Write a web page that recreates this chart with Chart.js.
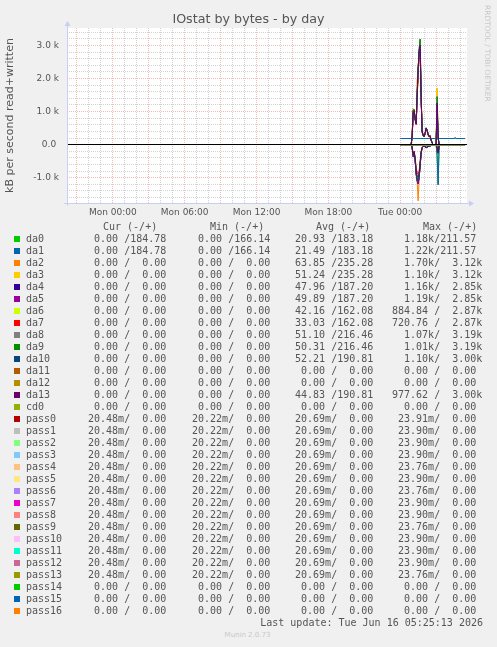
<!DOCTYPE html>
<html><head><meta charset="utf-8">
<script src="https://cdn.jsdelivr.net/npm/chart.js@4.4.1/dist/chart.umd.min.js"></script>
<style>
html,body{margin:0;padding:0;background:#f0f0f0;width:497px;height:647px;overflow:hidden;}
#wrap{position:relative;width:497px;height:647px;}
#c{position:absolute;left:0;top:0;}
.t{position:absolute;font-family:"DejaVu Sans Mono",monospace;font-size:10px;line-height:12px;height:12px;color:#555;white-space:pre;}
.sw{position:absolute;width:6px;height:6px;}
#rrd{position:absolute;font-family:"DejaVu Sans",sans-serif;font-size:7.5px;line-height:9px;color:#c8c8c8;transform-origin:left top;transform:rotate(90deg);left:492px;top:5px;white-space:nowrap;}
#ver{position:absolute;font-family:"DejaVu Sans",sans-serif;font-size:7px;line-height:9px;color:#c8c8c8;left:0;width:495px;text-align:center;top:631px;}
</style></head>
<body><div id="wrap"><canvas id="c" width="497" height="230"></canvas>
<div id="rrd">RRDTOOL / TOBI OETIKER</div>
<div id="legend"></div>
<div id="ver">Munin 2.0.73</div>
</div>
<script>
// ---------- data ----------
const seriesNames = ["da0","da1","da2","da3","da4","da5","da6","da7","da8","da9","da10","da11","da12","da13","cd0",
  "pass0","pass1","pass2","pass3","pass4","pass5","pass6","pass7","pass8","pass9","pass10","pass11","pass12","pass13","pass14","pass15","pass16"];
const seriesColors = ["#00CC00","#0066B3","#FF8000","#FFCC00","#330099","#990099","#CCFF00","#FF0000","#808080","#008F00","#00487D","#B35A00","#B38F00","#6B006B","#8FB300",
  "#B30000","#BEBEBE","#80FF80","#80C9FF","#FFC080","#FFE680","#AA80FF","#EE00CC","#FF8080","#666600","#FFBFFF","#00FFCC","#CC6699","#999900","#00CC00","#0066B3","#FF8000"];

// sample times, minutes after Tue 00:00
const tSpike = [0,55,60,65,70,75,80,85,90,95,100,105,110,115,120,125,130,135,140,145,150,155,160,165,170,175,180,185,190,195,200,270,275,280,325];
const tFlat = [0,325];

// written (positive) kB/s
const wDa01 = [185,185,185,185,185,185,185,185,185,185,185,185,185,185,185,185,185,185,185,185,185,185,185,185,185,185,185,185,166,185,185,185,211,185,185];
const wDa23 = [0,0,300,1090,1050,800,650,1900,2400,2600,3120,1500,420,300,260,360,500,450,320,260,280,150,60,0,0,0,0,1700,250,0,0,0,0,0,0];
const wDa45 = [0,0,250,950,1000,760,620,1450,2200,2750,2850,1400,380,280,240,330,480,430,300,240,260,140,50,0,0,0,0,1100,220,0,0,0,0,0,0];
const wDa67 = [0,0,230,900,960,740,600,1400,2150,2700,2870,1350,370,260,230,320,460,400,280,230,250,130,50,0,0,0,0,1000,200,0,0,0,0,0,0];
const wDa89 = [0,0,280,1050,1060,780,640,1550,2250,2900,3190,1450,400,290,250,350,510,440,310,250,270,140,55,0,0,0,0,1450,240,0,0,0,0,0,0];
const wDa1013 = [0,0,260,1000,1030,770,630,1500,2300,2850,3000,1420,390,285,245,340,500,435,305,245,265,140,55,0,0,0,0,1250,230,0,0,0,0,0,0];

// read (drawn negative) kB/s
const rDa0 = [0,0,0,0,0,0,0,0,0,0,0,0,0,0,0,0,0,0,0,0,0,0,0,0,0,0,0,300,1180,60,0,0,0,0,0];
const rDa1 = [0,0,0,0,0,0,0,0,0,0,0,0,0,0,0,0,0,0,0,0,0,0,0,0,0,0,0,320,1220,60,0,0,0,0,0];
const rDa2 = [0,0,100,350,250,500,900,1100,1700,1000,600,250,100,60,50,70,90,80,60,50,40,30,10,0,0,0,0,100,260,50,0,0,0,0,0];
const rDa3 = [0,0,100,300,230,450,850,1000,1100,950,600,250,100,60,50,70,90,80,60,50,40,30,10,0,0,0,0,100,250,50,0,0,0,0,0];
const rDa45 = [0,0,100,370,250,480,900,1100,1190,1000,650,250,100,60,50,70,90,80,60,50,40,30,10,0,0,0,0,100,260,50,0,0,0,0,0];
const rDa67 = [0,0,80,300,200,400,700,850,885,800,500,200,80,50,40,60,80,70,50,40,30,20,10,0,0,0,0,80,200,40,0,0,0,0,0];
const rDa89 = [0,0,90,330,230,460,850,1000,1070,950,600,240,90,60,50,70,90,80,60,50,40,30,10,0,0,0,0,90,240,50,0,0,0,0,0];
const rDa10 = [0,0,90,340,240,470,880,1050,1100,980,620,250,95,60,50,70,90,80,60,50,40,30,10,0,0,0,0,100,250,50,0,0,0,0,0];
const rDa13 = [0,0,80,300,210,420,780,930,977,870,550,220,85,55,45,60,80,70,55,45,35,25,10,0,0,0,0,90,230,45,0,0,0,0,0];
const zeroFlat = [0,0];
const passReadFlat = [0.0205,0.0205];

// legend table columns
const curCol = ["  0.00 /184.78","  0.00 /184.78","  0.00 /  0.00","  0.00 /  0.00","  0.00 /  0.00","  0.00 /  0.00","  0.00 /  0.00","  0.00 /  0.00","  0.00 /  0.00","  0.00 /  0.00","  0.00 /  0.00","  0.00 /  0.00","  0.00 /  0.00","  0.00 /  0.00","  0.00 /  0.00",
  " 20.48m/  0.00"," 20.48m/  0.00"," 20.48m/  0.00"," 20.48m/  0.00"," 20.48m/  0.00"," 20.48m/  0.00"," 20.48m/  0.00"," 20.48m/  0.00"," 20.48m/  0.00"," 20.48m/  0.00"," 20.48m/  0.00"," 20.48m/  0.00"," 20.48m/  0.00"," 20.48m/  0.00","  0.00 /  0.00","  0.00 /  0.00","  0.00 /  0.00"];
const minCol = ["  0.00 /166.14","  0.00 /166.14","  0.00 /  0.00","  0.00 /  0.00","  0.00 /  0.00","  0.00 /  0.00","  0.00 /  0.00","  0.00 /  0.00","  0.00 /  0.00","  0.00 /  0.00","  0.00 /  0.00","  0.00 /  0.00","  0.00 /  0.00","  0.00 /  0.00","  0.00 /  0.00",
  " 20.22m/  0.00"," 20.22m/  0.00"," 20.22m/  0.00"," 20.22m/  0.00"," 20.22m/  0.00"," 20.22m/  0.00"," 20.22m/  0.00"," 20.22m/  0.00"," 20.22m/  0.00"," 20.22m/  0.00"," 20.22m/  0.00"," 20.22m/  0.00"," 20.22m/  0.00"," 20.22m/  0.00","  0.00 /  0.00","  0.00 /  0.00","  0.00 /  0.00"];
const avgCol = [" 20.93 /183.18"," 21.49 /183.18"," 63.85 /235.28"," 51.24 /235.28"," 47.96 /187.20"," 49.89 /187.20"," 42.16 /162.08"," 33.03 /162.08"," 51.10 /216.46"," 50.31 /216.46"," 52.21 /190.81","  0.00 /  0.00","  0.00 /  0.00"," 44.83 /190.81","  0.00 /  0.00",
  " 20.69m/  0.00"," 20.69m/  0.00"," 20.69m/  0.00"," 20.69m/  0.00"," 20.69m/  0.00"," 20.69m/  0.00"," 20.69m/  0.00"," 20.69m/  0.00"," 20.69m/  0.00"," 20.69m/  0.00"," 20.69m/  0.00"," 20.69m/  0.00"," 20.69m/  0.00"," 20.69m/  0.00","  0.00 /  0.00","  0.00 /  0.00","  0.00 /  0.00"];
const maxCol = ["  1.18k/211.57","  1.22k/211.57","  1.70k/  3.12k","  1.10k/  3.12k","  1.16k/  2.85k","  1.19k/  2.85k","884.84 /  2.87k","720.76 /  2.87k","  1.07k/  3.19k","  1.01k/  3.19k","  1.10k/  3.00k","  0.00 /  0.00","  0.00 /  0.00","977.62 /  3.00k","  0.00 /  0.00",
  " 23.91m/  0.00"," 23.90m/  0.00"," 23.90m/  0.00"," 23.90m/  0.00"," 23.76m/  0.00"," 23.90m/  0.00"," 23.76m/  0.00"," 23.90m/  0.00"," 23.90m/  0.00"," 23.76m/  0.00"," 23.90m/  0.00"," 23.90m/  0.00"," 23.90m/  0.00"," 23.76m/  0.00","  0.00 /  0.00","  0.00 /  0.00","  0.00 /  0.00"];
const colHeaders = ["Cur (-/+)","Min (-/+)","Avg (-/+)","Max (-/+)"];

// axis ticks
const xMajorHours = [0,6,12,18,24];
const xMajorLabels = ["Mon 00:00","Mon 06:00","Mon 12:00","Mon 18:00","Tue 00:00"];
const yMajorValues = [-1000,0,1000,2000,3000];
const yMajorLabels = ["-1.0 k","0.0 ","1.0 k","2.0 k","3.0 k"];
const lastUpdate = "Last update: Tue Jun 16 05:25:13 2026";

// ---------- mapping ----------
const writeMap = {da0:wDa01,da1:wDa01,da2:wDa23,da3:wDa23,da4:wDa45,da5:wDa45,da6:wDa67,da7:wDa67,da8:wDa89,da9:wDa89,da10:wDa1013,da13:wDa1013};
const readMap = {da0:rDa0,da1:rDa1,da2:rDa2,da3:rDa3,da4:rDa45,da5:rDa45,da6:rDa67,da7:rDa67,da8:rDa89,da9:rDa89,da10:rDa10,da13:rDa13};

const datasets = [];
seriesNames.forEach((n,i)=>{
  let t, r, w;
  if (writeMap[n]) { t = tSpike; r = readMap[n]; w = writeMap[n]; }
  else { t = tFlat; w = zeroFlat; r = n.startsWith('pass') && curCol[i].includes('m') ? passReadFlat : zeroFlat; }
  const base = {borderColor: seriesColors[i], borderWidth: 1, pointRadius: 0, fill: false, tension: 0};
  datasets.push(Object.assign({}, base, {data: t.map((m,k)=>({x: 24 + m/60, y: -r[k]})), order: -(2*i)}));
  datasets.push(Object.assign({}, base, {data: t.map((m,k)=>({x: 24 + m/60, y: w[k]})), order: -(2*i+1)}));
});

const FONT = '"DejaVu Sans", sans-serif';
const TXT = '#555';
const MAJ = 'rgba(235,140,140,0.6)';
const MIN = 'rgba(195,195,195,0.75)';
const AXC = '#c8cef4';

const decor = {
  id: 'decor',
  beforeDraw(c) {
    const {ctx, chartArea: a} = c;
    ctx.save(); ctx.fillStyle = '#fff'; ctx.fillRect(a.left, a.top, a.right - a.left, a.bottom - a.top); ctx.restore();
  },
  afterDatasetsDraw(c) {
    const {ctx, chartArea: a} = c;
    const y0 = Math.floor(c.scales.y.getPixelForValue(0)) + 0.5;
    ctx.save(); ctx.strokeStyle = '#000'; ctx.lineWidth = 1;
    ctx.beginPath(); ctx.moveTo(a.left, y0); ctx.lineTo(a.right, y0); ctx.stroke(); ctx.restore();
  },
  afterDraw(c) {
    const {ctx, chartArea: a} = c;
    ctx.save(); ctx.strokeStyle = AXC; ctx.fillStyle = AXC; ctx.lineWidth = 1;
    const lx = a.left + 0.5, by = a.bottom + 0.5;
    ctx.beginPath(); ctx.moveTo(lx, a.bottom + 3); ctx.lineTo(lx, a.top - 3); ctx.stroke();
    ctx.beginPath(); ctx.moveTo(a.left - 3, by); ctx.lineTo(a.right + 3, by); ctx.stroke();
    ctx.beginPath(); ctx.moveTo(lx - 3, a.top - 2); ctx.lineTo(lx + 3, a.top - 2); ctx.lineTo(lx, a.top - 7); ctx.closePath(); ctx.fill();
    ctx.beginPath(); ctx.moveTo(a.right + 2, by - 3); ctx.lineTo(a.right + 2, by + 3); ctx.lineTo(a.right + 7, by); ctx.closePath(); ctx.fill();
    ctx.restore();
  }
};

new Chart(document.getElementById('c'), {
  type: 'line',
  data: {datasets},
  plugins: [decor],
  options: {
    responsive: false, animation: false, events: [],
    layout: {padding: {left: 0, right: 0, top: 0, bottom: 7}},
    plugins: {
      legend: {display: false}, tooltip: {enabled: false},
      title: {display: true, text: 'IOstat by bytes - by day', color: TXT,
        font: {family: FONT, size: 12.7, weight: 'normal'}, padding: {top: 12, bottom: 0.76}}
    },
    scales: {
      x: {
        type: 'linear', min: -3.83, max: 29.58,
        afterBuildTicks: s => { const a = []; for (let h = Math.ceil(s.min); h <= Math.floor(s.max); h++) a.push({value: h}); s.ticks = a; },
        afterFit: s => { s.height = 20; },
        grid: {drawTicks: false, lineWidth: 1, color: c => (c.tick && ((c.tick.value % 3) + 3) % 3 === 0) ? MAJ : MIN},
        border: {display: false, dash: [1, 1]},
        ticks: {autoSkip: false, maxRotation: 0, minRotation: 0, padding: 4, color: TXT, font: {family: FONT, size: 9},
          callback: v => { const k = xMajorHours.indexOf(v); return k >= 0 ? xMajorLabels[k] : ''; }}
      },
      y: {
        min: -1765, max: 3527,
        afterBuildTicks: s => { const a = []; for (let v = -1600; v <= 3400; v += 200) a.push({value: v}); s.ticks = a; },
        afterFit: s => { s.width = 67; },
        grid: {drawTicks: false, lineWidth: 1, color: c => (c.tick && c.tick.value % 1000 === 0) ? MAJ : MIN},
        border: {display: false, dash: [1, 1]},
        title: {display: true, text: 'kB per second read+written', color: TXT, font: {family: FONT, size: 11}, padding: 4},
        ticks: {autoSkip: false, padding: 8, color: TXT, font: {family: FONT, size: 9},
          callback: v => { const k = yMajorValues.indexOf(v); return k >= 0 ? yMajorLabels[k] : ''; }}
      },
      yRight: {
        position: 'right', display: true,
        afterFit: s => { s.width = 30; },
        grid: {display: false}, border: {display: false}, ticks: {display: false}
      }
    }
  }
});

// ---------- legend table (HTML text) ----------
const L = document.getElementById('legend');
function addText(txt, x, yc, extra) {
  const d = document.createElement('div'); d.className = 't'; d.textContent = txt;
  d.style.top = (yc - 6) + 'px';
  if (extra && extra.right !== undefined) d.style.right = extra.right + 'px'; else d.style.left = x + 'px';
  L.appendChild(d);
}
const colX = [82, 186, 289, 392];
const headX = [103, 210, 316, 423];
colHeaders.forEach((h, j) => addText(h, headX[j], 227));
seriesNames.forEach((n, i) => {
  const yc = 239 + 12 * i;
  const sw = document.createElement('div'); sw.className = 'sw';
  sw.style.left = '14px'; sw.style.top = (yc - 3) + 'px'; sw.style.background = seriesColors[i];
  L.appendChild(sw);
  addText(n, 26, yc);
  [curCol, minCol, avgCol, maxCol].forEach((col, j) => addText(col[i], colX[j], yc));
});
addText(lastUpdate, 0, 623, {right: 14});
</script>
</body></html>
